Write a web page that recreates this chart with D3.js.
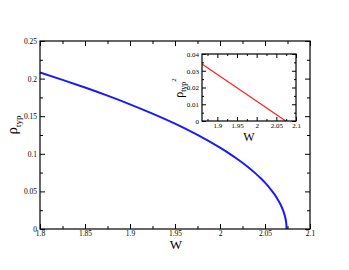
<!DOCTYPE html>
<html>
<head>
<meta charset="utf-8">
<script src="https://cdn.jsdelivr.net/npm/d3@7"></script>
<style>
  html, body { margin: 0; padding: 0; background: #fff; }
  svg { display: block; }
  text { font-family: "Liberation Serif", "Times New Roman", serif; fill: #000; }
</style>
</head>
<body>
<svg id="chart" width="349" height="270"></svg>
<script>
// ---- data ----
const mainW   = [1.8, 1.825, 1.85, 1.875, 1.9, 1.925, 1.95, 1.975, 2.0, 2.01, 2.02, 2.03, 2.04, 2.045, 2.05, 2.055, 2.06, 2.064, 2.067, 2.07, 2.072, 2.0735, 2.074];
const mainRho = [0.2081, 0.1983, 0.1881, 0.1773, 0.1658, 0.1534, 0.1400, 0.1251, 0.1081, 0.1006, 0.0924, 0.0834, 0.0733, 0.0677, 0.0616, 0.0548, 0.0470, 0.0397, 0.0333, 0.0251, 0.0178, 0.0089, 0.0];
const insetW    = [1.861, 2.074];
const insetRho2 = [0.034, 0.0];

const mainXTicks = [1.8, 1.85, 1.9, 1.95, 2.0, 2.05, 2.1];
const mainXLabels = ["1.8", "1.85", "1.9", "1.95", "2", "2.05", "2.1"];
const mainYTicks = [0, 0.05, 0.1, 0.15, 0.2, 0.25];
const mainYLabels = ["0", "0.05", "0.1", "0.15", "0.2", "0.25"];
const insetXTicks = [1.9, 1.95, 2.0, 2.05, 2.1];
const insetXLabels = ["1.9", "1.95", "2", "2.05", "2.1"];
const insetYTicks = [0, 0.01, 0.02, 0.03, 0.04];
const insetYLabels = ["0", "0.01", "0.02", "0.03", "0.04"];

const svg = d3.select("#chart");
svg.append("rect").attr("width", 349).attr("height", 270).attr("fill", "#fff");

function drawFrame(g, x, y, xT, xL, yT, yL, xMinor, yMinor, major, minor, fs) {
  const [x0, x1] = x.range(), [y0, y1] = y.range();
  const style = sel => {
    sel.attr("color", "#000");
    sel.select(".domain").remove();
    sel.selectAll("line").attr("stroke", "#000");
    sel.selectAll("text").attr("fill", "#000");
  };
  // bottom
  g.append("g").attr("transform", `translate(0,${y0})`)
    .call(d3.axisBottom(x).tickValues(xMinor).tickSize(-minor).tickFormat("")).call(style);
  g.append("g").attr("transform", `translate(0,${y0})`)
    .call(d3.axisBottom(x).tickValues(xT).tickSize(-major).tickPadding(2).tickFormat((d, i) => xL[i]))
    .call(style).selectAll("text").attr("font-size", fs).attr("font-family", "Liberation Serif");
  // top
  g.append("g").attr("transform", `translate(0,${y1})`)
    .call(d3.axisTop(x).tickValues(xMinor).tickSize(-minor).tickFormat("")).call(style);
  g.append("g").attr("transform", `translate(0,${y1})`)
    .call(d3.axisTop(x).tickValues(xT).tickSize(-major).tickFormat("")).call(style);
  // left
  g.append("g").attr("transform", `translate(${x0},0)`)
    .call(d3.axisLeft(y).tickValues(yMinor).tickSize(-minor).tickFormat("")).call(style);
  g.append("g").attr("transform", `translate(${x0},0)`)
    .call(d3.axisLeft(y).tickValues(yT).tickSize(-major).tickPadding(3).tickFormat((d, i) => yL[i]))
    .call(style).selectAll("text").attr("font-size", fs).attr("font-family", "Liberation Serif");
  // right
  g.append("g").attr("transform", `translate(${x1},0)`)
    .call(d3.axisRight(y).tickValues(yMinor).tickSize(-minor).tickFormat("")).call(style);
  g.append("g").attr("transform", `translate(${x1},0)`)
    .call(d3.axisRight(y).tickValues(yT).tickSize(-major).tickFormat("")).call(style);
  g.append("rect").attr("x", x0).attr("y", y1).attr("width", x1 - x0).attr("height", y0 - y1)
    .attr("fill", "none").attr("stroke", "#000").attr("stroke-width", 1.2);
}

// ---- main plot ----
const x = d3.scaleLinear().domain([1.8, 2.1]).range([40, 310]);
const y = d3.scaleLinear().domain([0, 0.25]).range([229, 41]);
const gMain = svg.append("g");
gMain.append("rect").attr("x", 40).attr("y", 41).attr("width", 270).attr("height", 188).attr("fill", "#fff");
const mainData = mainW.map((w, i) => [w, mainRho[i]]);
gMain.append("path").datum(mainData)
  .attr("fill", "none").attr("stroke", "#1a1aff").attr("stroke-width", 2)
  .attr("d", d3.line().x(d => x(d[0])).y(d => y(d[1])).curve(d3.curveMonotoneY));
drawFrame(gMain, x, y, mainXTicks, mainXLabels, mainYTicks, mainYLabels,
  d3.range(1.825, 2.1, 0.05), d3.range(0.025, 0.25, 0.05), 5, 3, 7.5);

svg.append("text").attr("x", 176).attr("y", 249).attr("text-anchor", "middle")
  .attr("font-size", 13).text("W");
const yl = svg.append("text").attr("transform", "translate(17,125) rotate(-90)")
  .attr("text-anchor", "middle");
yl.append("tspan").attr("font-size", 15).text("ρ");
yl.append("tspan").attr("font-size", 9).attr("dy", 4).text("typ");

// ---- inset ----
const xi = d3.scaleLinear().domain([1.861, 2.1]).range([202, 296]);
const yi = d3.scaleLinear().domain([0, 0.04]).range([121, 54]);
const gIn = svg.append("g");
gIn.append("rect").attr("x", 202).attr("y", 54).attr("width", 94).attr("height", 67).attr("fill", "#fff");
svg.append("clipPath").attr("id", "ic").append("rect").attr("x", 202).attr("y", 54).attr("width", 94).attr("height", 67);
const insetData = insetW.map((w, i) => [w, insetRho2[i]]);
gIn.append("path").datum(insetData).attr("clip-path", "url(#ic)")
  .attr("fill", "none").attr("stroke", "#ff2020").attr("stroke-width", 1.2)
  .attr("d", d3.line().x(d => xi(d[0])).y(d => yi(d[1])));
drawFrame(gIn, xi, yi, insetXTicks, insetXLabels, insetYTicks, insetYLabels,
  d3.range(1.875, 2.1, 0.05), d3.range(0.005, 0.04, 0.01), 4, 2, 7);

svg.append("text").attr("x", 249).attr("y", 141).attr("text-anchor", "middle")
  .attr("font-size", 12).text("W");
const yl2 = svg.append("text").attr("transform", "translate(183,88) rotate(-90)")
  .attr("text-anchor", "middle");
yl2.append("tspan").attr("font-size", 12).text("ρ");
yl2.append("tspan").attr("font-size", 8).attr("dy", 3).text("typ");
yl2.append("tspan").attr("font-size", 7).attr("dy", -10).text("2");
</script>
</body>
</html>
